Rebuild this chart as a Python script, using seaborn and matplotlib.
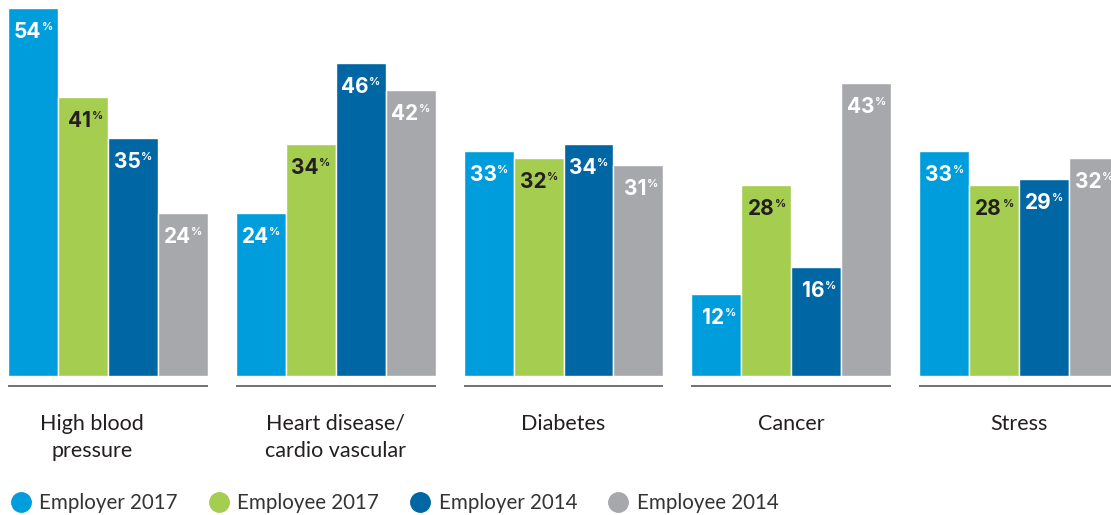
import numpy as np
import pandas as pd
import matplotlib
matplotlib.use("Agg")
import matplotlib.pyplot as plt
import matplotlib.transforms as mtransforms
from matplotlib.lines import Line2D
import seaborn as sns

# ---------------------------------------------------------------------------
# Data
# ---------------------------------------------------------------------------
categories = ["High blood\npressure", "Heart disease/\ncardio vascular",
              "Diabetes", "Cancer", "Stress"]
series = ["Employer 2017", "Employee 2017", "Employer 2014", "Employee 2014"]
employer_2017 = [54, 24, 33, 12, 33]
employee_2017 = [41, 34, 32, 28, 28]
employer_2014 = [35, 46, 34, 16, 29]
employee_2014 = [24, 42, 31, 43, 32]

colors = ["#009ddc", "#a5cd50", "#0066a4", "#a6a8ab"]
label_colors = ["white", "#231f20", "white", "white"]

df = pd.DataFrame({
    "category": categories * 4,
    "series": np.repeat(series, len(categories)),
    "value": employer_2017 + employee_2017 + employer_2014 + employee_2014,
})

# ---------------------------------------------------------------------------
# Plot
# ---------------------------------------------------------------------------
sns.set_style("white")
plt.rcParams["font.family"] = ["Lato", "DejaVu Sans"]

W, H = 1111, 515
fig = plt.figure(figsize=(W / 100, H / 100), dpi=100)
base_px = 376
ax = fig.add_axes([0, (H - base_px) / H, 1, base_px / H])

group_step = 227.75
group_w = 0.876
sns.barplot(data=df, x="category", y="value", hue="series", palette=colors,
            width=group_w, saturation=1, legend=False, ax=ax)

first_center = 108 / group_step
ax.set_xlim(-first_center, (W - 108) / group_step)
px_per_pct = 6.81
ax.set_ylim(0, base_px / px_per_pct)
sns.despine(ax=ax, left=True, bottom=True)
ax.set_yticks([])
ax.set_xlabel("")
ax.set_ylabel("")

# category labels
ax.tick_params(axis="x", length=0, pad=27, labelsize=15.5, labelcolor="#231f20")
for lab in ax.get_xticklabels():
    lab.set_va("top")
    lab.set_linespacing(1.45)
# first label sits a bit left of its group in the original
first = ax.get_xticklabels()[0]
first.set_transform(first.get_transform()
                    + mtransforms.ScaledTranslation(-0.16, 0, fig.dpi_scale_trans))

# underline per group
y_line = -10 / px_per_pct
for i in range(len(categories)):
    ax.hlines(y_line, i - group_w / 2, i + group_w / 2, color="#58595b",
              lw=1.2, clip_on=False)

# value labels
for k, cont in enumerate(ax.containers):
    for bar in cont:
        v = bar.get_height()
        cx = bar.get_x() + bar.get_width() / 2
        ax.annotate(f"{v:.0f}", (cx, v), xytext=(8, -30),
                    textcoords="offset pixels", ha="right", va="baseline",
                    fontsize=15, fontweight="bold", family="Inter",
                    color=label_colors[k])
        ax.annotate("%", (cx, v), xytext=(8.5, -14),
                    textcoords="offset pixels", ha="left", va="top",
                    fontsize=8, fontweight="bold", family="Inter",
                    color=label_colors[k])

# legend
handles = [Line2D([0], [0], marker="o", linestyle="", markersize=14,
                  markerfacecolor=c, markeredgecolor=c) for c in colors]
fig.legend(handles, series, loc="center left", bbox_to_anchor=(0.0, 1 - 503 / H),
           ncol=4, frameon=False, fontsize=14.8, handletextpad=0.3,
           columnspacing=1.4, borderaxespad=0, handlelength=1.2,
           labelcolor="#333333")

fig.savefig("out.png", dpi=100)
